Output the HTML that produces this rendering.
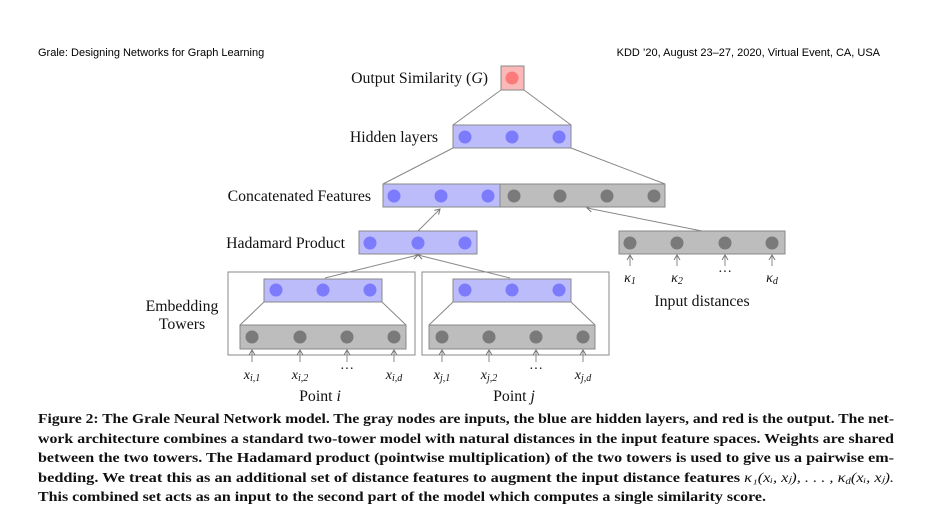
<!DOCTYPE html>
<html><head><meta charset="utf-8"><style>html,body{margin:0;padding:0;background:#fff}svg{display:block}</style></head><body>
<svg width="944" height="524" viewBox="0 0 944 524" xmlns="http://www.w3.org/2000/svg">
<defs><marker id="a" markerWidth="8" markerHeight="8" refX="6" refY="4" orient="auto" markerUnits="userSpaceOnUse"><path d="M1,1 L6,4 L1,7" fill="none" stroke="#777" stroke-width="1"/></marker></defs>
<g font-family="Liberation Sans, sans-serif" font-size="11" fill="#000">
<text x="38" y="56">Grale: Designing Networks for Graph Learning</text>
<text x="880" y="56" text-anchor="end">KDD ’20, August 23–27, 2020, Virtual Event, CA, USA</text>
</g>
<g stroke="#888" stroke-width="1" fill="none">
<line x1="501" y1="90" x2="453" y2="125"/><line x1="524" y1="90" x2="571" y2="125"/>
<line x1="453" y1="148" x2="383" y2="184"/><line x1="571" y1="148" x2="665" y2="184"/>
<line x1="418" y1="231" x2="440" y2="209" marker-end="url(#a)"/>
<line x1="702" y1="231" x2="587" y2="208" marker-end="url(#a)"/>
<line x1="325" y1="278" x2="418" y2="255" marker-end="url(#a)"/>
<line x1="510" y1="278" x2="418" y2="255" marker-end="url(#a)"/>
<line x1="264" y1="302" x2="240" y2="325"/><line x1="382" y1="302" x2="406" y2="325"/>
<line x1="453" y1="302" x2="429" y2="325"/><line x1="571" y1="302" x2="595" y2="325"/>
<rect x="228" y="272" width="187" height="83"/><rect x="422" y="272" width="187" height="83"/>
</g>
<g stroke="#888" stroke-width="1" fill="none">
<line x1="252" y1="362" x2="252" y2="350" marker-end="url(#a)"/><line x1="300" y1="362" x2="300" y2="350" marker-end="url(#a)"/><line x1="347" y1="362" x2="347" y2="350" marker-end="url(#a)"/><line x1="394" y1="362" x2="394" y2="350" marker-end="url(#a)"/>
<line x1="442" y1="362" x2="442" y2="350" marker-end="url(#a)"/><line x1="489" y1="362" x2="489" y2="350" marker-end="url(#a)"/><line x1="536" y1="362" x2="536" y2="350" marker-end="url(#a)"/><line x1="583" y1="362" x2="583" y2="350" marker-end="url(#a)"/>
<line x1="630" y1="266" x2="630" y2="255" marker-end="url(#a)"/><line x1="677" y1="266" x2="677" y2="255" marker-end="url(#a)"/><line x1="725" y1="266" x2="725" y2="255" marker-end="url(#a)"/><line x1="772" y1="266" x2="772" y2="255" marker-end="url(#a)"/>
</g>
<g stroke="#888" stroke-width="1">
<rect x="501" y="66" width="23" height="24" fill="#fbb8b8"/>
<rect x="453" y="125" width="118" height="23" fill="#bcbcfb"/>
<rect x="383" y="184" width="117" height="23" fill="#bcbcfb"/>
<rect x="500" y="184" width="165" height="23" fill="#bdbdbd"/>
<rect x="359" y="231" width="118" height="23" fill="#bcbcfb"/>
<rect x="619" y="231" width="166" height="23" fill="#bdbdbd"/>
<rect x="264" y="279" width="118" height="23" fill="#bcbcfb"/>
<rect x="453" y="279" width="118" height="23" fill="#bcbcfb"/>
<rect x="240" y="325" width="166" height="24" fill="#bdbdbd"/>
<rect x="429" y="325" width="166" height="24" fill="#bdbdbd"/>
</g>
<g stroke="none">
<circle cx="512" cy="78" r="6.5" fill="#fb7b7b"/>
<g fill="#7b7bfb">
<circle cx="465" cy="137" r="6.5"/><circle cx="512" cy="137" r="6.5"/><circle cx="559" cy="137" r="6.5"/>
<circle cx="394" cy="196" r="6.5"/><circle cx="441" cy="196" r="6.5"/><circle cx="488" cy="196" r="6.5"/>
<circle cx="370" cy="243" r="6.5"/><circle cx="418" cy="243" r="6.5"/><circle cx="465" cy="243" r="6.5"/>
<circle cx="276" cy="290" r="6.5"/><circle cx="323" cy="290" r="6.5"/><circle cx="370" cy="290" r="6.5"/>
<circle cx="465" cy="290" r="6.5"/><circle cx="512" cy="290" r="6.5"/><circle cx="559" cy="290" r="6.5"/>
</g>
<g fill="#7a7a7a">
<circle cx="514" cy="196" r="6.5"/><circle cx="560" cy="196" r="6.5"/><circle cx="607" cy="196" r="6.5"/><circle cx="654" cy="196" r="6.5"/>
<circle cx="630" cy="243" r="6.5"/><circle cx="677" cy="243" r="6.5"/><circle cx="725" cy="243" r="6.5"/><circle cx="772" cy="243" r="6.5"/>
<circle cx="252" cy="337" r="6.5"/><circle cx="300" cy="337" r="6.5"/><circle cx="347" cy="337" r="6.5"/><circle cx="394" cy="337" r="6.5"/>
<circle cx="442" cy="337" r="6.5"/><circle cx="489" cy="337" r="6.5"/><circle cx="536" cy="337" r="6.5"/><circle cx="583" cy="337" r="6.5"/>
</g>
</g>
<g font-family="Liberation Serif, serif" font-size="15.8" fill="#111">
<text x="488" y="83" text-anchor="end">Output Similarity (<tspan font-style="italic">G</tspan>)</text>
<text x="438" y="142" text-anchor="end">Hidden layers</text>
<text x="371" y="201" text-anchor="end">Concatenated Features</text>
<text x="345" y="248" text-anchor="end">Hadamard Product</text>
<text x="182" y="311" text-anchor="middle">Embedding</text>
<text x="182" y="329" text-anchor="middle">Towers</text>
<text x="702" y="306" text-anchor="middle">Input distances</text>
<text x="320" y="401" text-anchor="middle">Point <tspan font-style="italic">i</tspan></text>
<text x="514" y="401" text-anchor="middle">Point <tspan font-style="italic">j</tspan></text>
</g>
<g font-family="Liberation Serif, serif" font-size="14" font-style="italic" fill="#111" text-anchor="middle">
<text x="252" y="379">x<tspan font-size="10" dy="2">i,1</tspan></text>
<text x="300" y="379">x<tspan font-size="10" dy="2">i,2</tspan></text>
<text x="347" y="373" font-style="normal">···</text>
<text x="394" y="379">x<tspan font-size="10" dy="2">i,d</tspan></text>
<text x="442" y="379">x<tspan font-size="10" dy="2">j,1</tspan></text>
<text x="489" y="379">x<tspan font-size="10" dy="2">j,2</tspan></text>
<text x="536" y="373" font-style="normal">···</text>
<text x="583" y="379">x<tspan font-size="10" dy="2">j,d</tspan></text>
<text x="630" y="282">κ<tspan font-size="10" dy="2">1</tspan></text>
<text x="677" y="282">κ<tspan font-size="10" dy="2">2</tspan></text>
<text x="725" y="276" font-style="normal">···</text>
<text x="772" y="282">κ<tspan font-size="10" dy="2">d</tspan></text>
</g>
<g font-family="Liberation Serif, serif" font-size="13.5" font-weight="bold" fill="#111">
<text x="38" y="423" textLength="856" lengthAdjust="spacingAndGlyphs">Figure 2: The Grale Neural Network model. The gray nodes are inputs, the blue are hidden layers, and red is the output. The net-</text>
<text x="38" y="443" textLength="856" lengthAdjust="spacingAndGlyphs">work architecture combines a standard two-tower model with natural distances in the input feature spaces. Weights are shared</text>
<text x="38" y="462" textLength="856" lengthAdjust="spacingAndGlyphs">between the two towers. The Hadamard product (pointwise multiplication) of the two towers is used to give us a pairwise em-</text>
<text x="38" y="482" textLength="856" lengthAdjust="spacingAndGlyphs">bedding. We treat this as an additional set of distance features to augment the input distance features <tspan font-weight="normal" font-style="italic">κ₁(xᵢ, xⱼ), . . . , κ</tspan><tspan font-weight="normal" font-style="italic" font-size="9" dy="2">d</tspan><tspan font-weight="normal" font-style="italic" dy="-2">(xᵢ, xⱼ).</tspan></text>
<text x="38" y="501" textLength="728" lengthAdjust="spacingAndGlyphs">This combined set acts as an input to the second part of the model which computes a single similarity score.</text>
</g>
</svg>
</body></html>
